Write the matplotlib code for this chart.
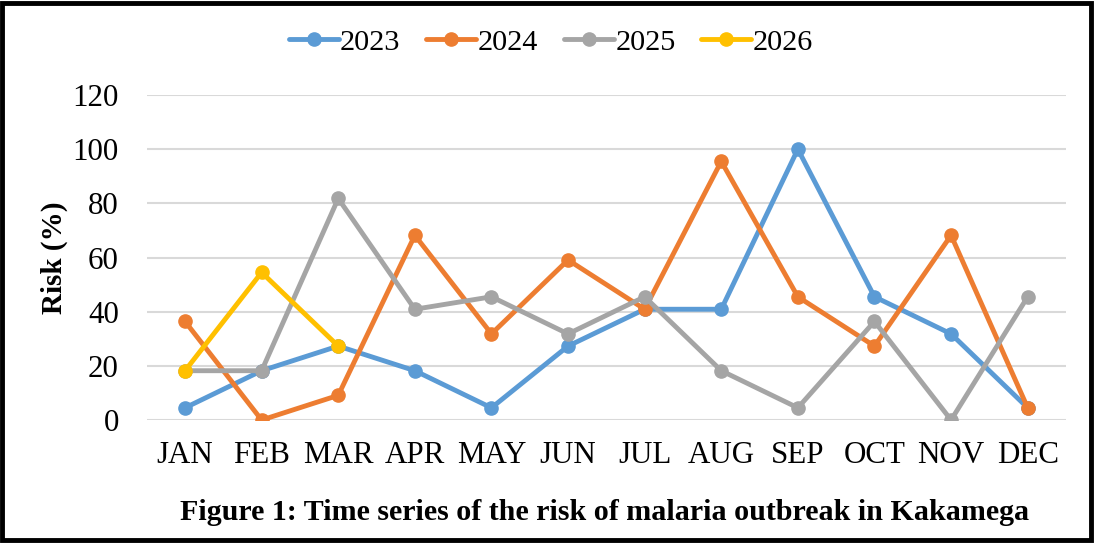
import matplotlib
matplotlib.use("Agg")
import matplotlib.pyplot as plt
from matplotlib.patches import Rectangle

months = ["JAN", "FEB", "MAR", "APR", "MAY", "JUN", "JUL", "AUG", "SEP", "OCT", "NOV", "DEC"]
risk_2023 = [4.5, 18.2, 27.3, 18.2, 4.5, 27.3, 40.9, 40.9, 100.0, 45.5, 31.8, 4.5]
risk_2024 = [36.4, 0.0, 9.1, 68.2, 31.8, 59.1, 40.9, 95.5, 45.5, 27.3, 68.2, 4.5]
risk_2025 = [18.2, 18.2, 81.8, 40.9, 45.5, 31.8, 45.5, 18.2, 4.5, 36.4, 0.0, 45.5]
risk_2026 = [18.2, 54.5, 27.3]
y_ticks = [0, 20, 40, 60, 80, 100, 120]

plt.rcParams["font.family"] = ["Liberation Serif", "DejaVu Serif"]

fig = plt.figure(figsize=(10.95, 5.43), dpi=100)
ax = fig.add_axes([0.134, 0.2265, 0.8395, 0.5985])

series = [
    ("2023", risk_2023, "#5B9BD5"),
    ("2024", risk_2024, "#ED7D31"),
    ("2025", risk_2025, "#A5A5A5"),
    ("2026", risk_2026, "#FFC000"),
]
x = list(range(len(months)))
for label, values, color in series:
    ax.plot(x[:len(values)], values, color=color, linewidth=3.5, marker="o",
            markersize=9.5, label=label, solid_capstyle="round")

ax.set_xlim(-0.5, len(months) - 0.5)
ax.set_ylim(0, 120)
ax.set_yticks(y_ticks)
ax.set_xticks(x)
ax.set_xticklabels(months)
ax.tick_params(axis="both", length=0, labelsize=22.3)
ax.tick_params(axis="x", pad=15)
ax.tick_params(axis="y", pad=20)
ax.grid(axis="y", color="#D9D9D9", linewidth=1.5)
ax.set_axisbelow(True)
for side in ["top", "right", "left", "bottom"]:
    ax.spines[side].set_visible(False)

ax.set_ylabel("Risk (%)", fontsize=21, fontweight="bold", labelpad=3)

fig.legend(loc="center", bbox_to_anchor=(0.503, 0.922), ncol=4, frameon=False,
           fontsize=21.8, handlelength=1.65, handletextpad=0.05, columnspacing=0.85)

fig.text(0.552, 0.056, "Figure 1: Time series of the risk of malaria outbreak in Kakamega",
         ha="center", va="center", fontsize=21.6, fontweight="bold")

fig.patches.append(Rectangle((0.002, 0.006), 0.994, 0.988, transform=fig.transFigure,
                             fill=False, edgecolor="black", linewidth=3.5))

fig.savefig("out.png", dpi=100)
